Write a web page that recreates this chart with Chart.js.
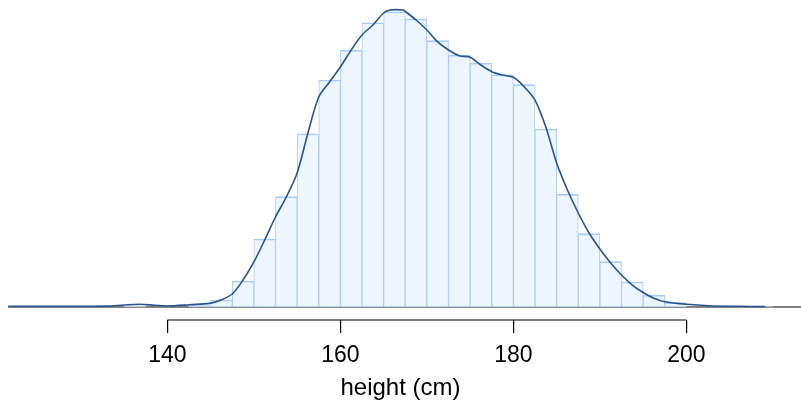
<!DOCTYPE html>
<html>
<head>
<meta charset="utf-8">
<script src="https://cdn.jsdelivr.net/npm/chart.js@4.4.1/dist/chart.umd.min.js"></script>
<style>
  html, body { margin: 0; padding: 0; background: #fff; }
  #wrap { width: 801px; height: 400px; }
</style>
</head>
<body>
<div id="wrap"><canvas id="histChart"></canvas></div>
<script>
// histogram bins (left edge, cm) and density per bin
const binEdges = [135, 142.5, 145, 147.5, 150, 152.5, 155, 157.5, 160, 162.5, 165, 167.5,
                  170, 172.5, 175, 177.5, 180, 182.5, 185, 187.5, 190, 192.5, 195, 197.5, 207.5];
const binDensity = [0.00012, 0.00018, 0.00082, 0.00305, 0.00799, 0.01296, 0.02035, 0.02666,
                    0.03015, 0.03339, 0.03468, 0.03383, 0.03128, 0.02956, 0.02862, 0.02728,
                    0.02611, 0.02091, 0.01324, 0.00861, 0.00532, 0.00294, 0.00137, 0.00051, 0.00006];
const binWidth = 2.5;

// kernel density curve
const curveX = [121.6, 126, 130, 133, 135, 136.8, 138.5, 140, 142.6, 144.9, 146.2, 147.5,
                148.75, 150, 151.25, 152.5, 153.75, 155, 156.25, 157.5, 158.75, 160, 161.25,
                162.5, 163.75, 165, 165.75, 167.25, 167.5, 168.75, 170, 171.25, 172.5, 173.75,
                175, 176.25, 177.5, 178.75, 180, 181.25, 182.5, 183.75, 185, 186.25, 187.5,
                188.75, 190, 191.25, 192.5, 193.75, 195, 196.25, 197.5, 200, 202.6, 206, 209.1];
const curveY = [0.00008, 0.00008, 0.00009, 0.0001, 0.00023, 0.00032, 0.00021, 0.00012, 0.00027,
                0.00043, 0.00082, 0.00153, 0.00317, 0.00529, 0.00787, 0.01057, 0.01292, 0.01574,
                0.02044, 0.02467, 0.02643, 0.02819, 0.03019, 0.03195, 0.03312, 0.03453, 0.03488,
                0.03488, 0.03471, 0.03371, 0.03253, 0.03113, 0.03019, 0.02952, 0.02933, 0.02842,
                0.02764, 0.02725, 0.02698, 0.02587, 0.02431, 0.02114, 0.01691, 0.01374, 0.01104,
                0.00869, 0.00681, 0.00517, 0.00376, 0.00258, 0.0017, 0.00102, 0.00062, 0.00032,
                0.00015, 0.00008, 0.00006];

const xTicks = [140, 160, 180, 200];
const xMin = 120.65, xMax = 213.25;

const barPoints = binEdges.map((e, i) => ({ x: e + binWidth / 2, y: binDensity[i] }));
const curvePoints = curveX.map((x, i) => ({ x: x, y: curveY[i] }));

// axis line only between first and last tick (R style)
const axisLine = {
    id: 'axisLine',
    afterDraw(chart) {
        const sx = chart.scales.x;
        const ctx = chart.ctx;
        ctx.save();
        ctx.strokeStyle = '#000';
        ctx.lineWidth = 1.2;
        ctx.beginPath();
        ctx.moveTo(sx.getPixelForValue(xTicks[0]), sx.top);
        ctx.lineTo(sx.getPixelForValue(xTicks[xTicks.length - 1]), sx.top);
        ctx.stroke();
        ctx.restore();
    }
};

Chart.defaults.font.family = "'Liberation Sans', Arial, sans-serif";
Chart.defaults.color = '#000';

new Chart(document.getElementById('histChart'), {
    type: 'bar',
    data: {
        datasets: [
            {
                type: 'line',
                data: curvePoints,
                borderColor: '#27548e',
                borderWidth: 1.6,
                pointRadius: 0,
                tension: 0.3,
                order: 0
            },
            {
                type: 'bar',
                data: barPoints,
                backgroundColor: '#eef6ff',
                borderColor: '#a9cbfb',
                borderWidth: { top: 1.6, left: 1, right: 1, bottom: 1 },
                borderSkipped: false,
                barPercentage: 1,
                categoryPercentage: 1,
                order: 1
            },
            {
                type: 'line',
                data: [{ x: curveX[0], y: 0 }, { x: xMax, y: 0 }],
                borderColor: '#000',
                borderWidth: 1,
                pointRadius: 0,
                order: 2
            }
        ]
    },
    options: {
        responsive: true,
        maintainAspectRatio: false,
        animation: false,
        layout: { padding: 0 },
        plugins: { legend: { display: false }, tooltip: { enabled: false } },
        scales: {
            x: {
                type: 'linear',
                offset: false,
                min: xMin,
                max: xMax,
                afterFit(scale) { scale.height = 80; },
                afterBuildTicks(scale) { scale.ticks = xTicks.map(v => ({ value: v })); },
                border: { display: false },
                grid: { offset: false, drawOnChartArea: false, tickLength: 13, color: '#000', lineWidth: 1.2 },
                ticks: { font: { size: 23 }, padding: 9, maxRotation: 0 },
                title: { display: true, text: 'height (cm)', font: { size: 24 }, padding: { top: 0, bottom: -3 } }
            },
            y: {
                display: false,
                min: -0.001527,
                max: 0.036058
            }
        }
    },
    plugins: [axisLine]
});
</script>
</body>
</html>
